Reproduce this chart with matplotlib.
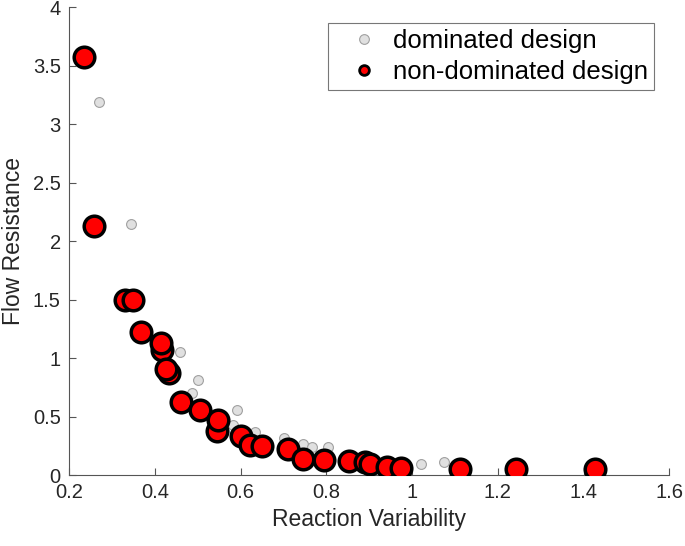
import numpy as np
import matplotlib
matplotlib.use("Agg")
import matplotlib.pyplot as plt
from matplotlib.lines import Line2D

plt.rcParams['font.family'] = ['Liberation Sans', 'DejaVu Sans']

# dominated designs (grey)
dom_x = [0.269, 0.344, 0.458, 0.500, 0.486, 0.591, 0.583, 0.633, 0.701,
         0.746, 0.766, 0.804, 1.021, 1.074]
dom_y = [3.19, 2.15, 1.054, 0.81, 0.70, 0.556, 0.43, 0.37, 0.319,
         0.265, 0.237, 0.242, 0.091, 0.114]

# non-dominated designs (red)
nd_x = [0.234, 0.258, 0.330, 0.349, 0.367, 0.417, 0.414, 0.434, 0.426,
        0.461, 0.505, 0.545, 0.548, 0.601, 0.622, 0.651, 0.710, 0.746,
        0.794, 0.853, 0.890, 0.902, 0.941, 0.974, 1.112, 1.243, 1.427]
nd_y = [3.57, 2.13, 1.50, 1.50, 1.225, 1.07, 1.126, 0.87, 0.906,
        0.621, 0.56, 0.379, 0.47, 0.336, 0.256, 0.248, 0.225, 0.137,
        0.125, 0.117, 0.111, 0.09, 0.066, 0.06, 0.054, 0.054, 0.049]

fig = plt.figure(figsize=(6.85, 5.46), dpi=100)
ax = fig.add_axes([0.101, 0.130, 0.876, 0.857])

ax.scatter(dom_x, dom_y, s=50, facecolor='#e0e0e0', edgecolor='#a0a0a0',
           linewidths=0.8, zorder=2)
ax.scatter(nd_x, nd_y, s=220, facecolor='#ff0000', edgecolor='black',
           linewidths=2.5, zorder=3)

ax.set_xlim(0.2, 1.6)
ax.set_ylim(0, 4)
ax.set_xticks(np.arange(0.2, 1.61, 0.2))
ax.set_xticklabels(['0.2', '0.4', '0.6', '0.8', '1', '1.2', '1.4', '1.6'])
ax.set_yticks(np.arange(0, 4.01, 0.5))
ax.set_yticklabels(['0', '0.5', '1', '1.5', '2', '2.5', '3', '3.5', '4'])

for side in ['top', 'right']:
    ax.spines[side].set_visible(False)
for side in ['left', 'bottom']:
    ax.spines[side].set_color('#555555')
    ax.spines[side].set_linewidth(0.8)
ax.tick_params(direction='in', length=5, width=0.8, color='#555555',
               labelsize=14.5, labelcolor='#262626', pad=6)

ax.set_xlabel('Reaction Variability', fontsize=16.5, color='#262626', labelpad=4)
ax.set_ylabel('Flow Resistance', fontsize=16.5, color='#262626', labelpad=6)

handles = [
    Line2D([], [], linestyle='none', marker='o', markersize=7,
           markerfacecolor='#e0e0e0', markeredgecolor='#a0a0a0', markeredgewidth=0.8),
    Line2D([], [], linestyle='none', marker='o', markersize=7,
           markerfacecolor='#ff0000', markeredgecolor='black', markeredgewidth=2.0),
]
leg = ax.legend(handles, ['dominated design', 'non-dominated design'],
                loc='upper right', bbox_to_anchor=(0.9745, 0.966), fontsize=18.5,
                fancybox=False, framealpha=1, edgecolor='#777777',
                borderpad=0.25, labelspacing=0.24, handletextpad=0.0,
                handlelength=2.25, borderaxespad=0)
leg.get_frame().set_linewidth(0.8)
for t in leg.get_texts():
    t.set_color('black')

fig.savefig('out.png', dpi=100)
